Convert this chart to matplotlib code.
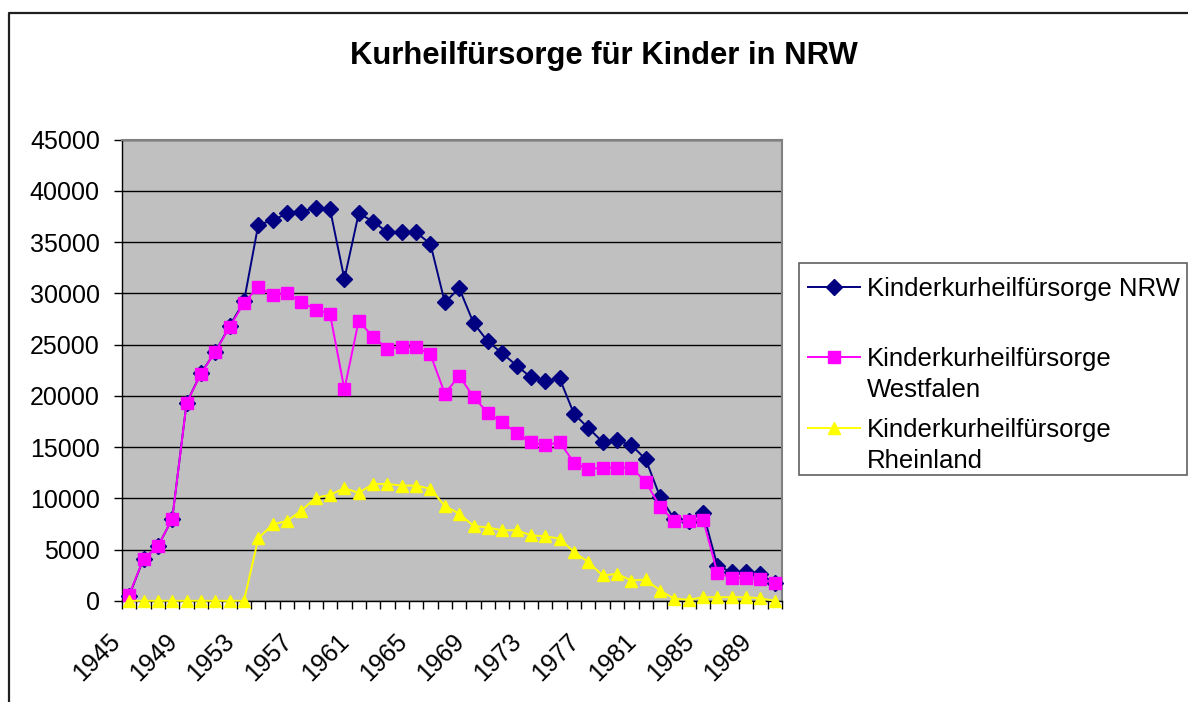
import matplotlib.pyplot as plt
from matplotlib.lines import Line2D
from matplotlib.patches import Rectangle
from matplotlib.transforms import ScaledTranslation

plt.rcParams['font.family'] = ['Liberation Sans', 'DejaVu Sans']

years = list(range(1945, 1991))

nrw = [500, 4100, 5300, 8000, 19300, 22200, 24300, 26800, 29200,
       36700, 37100, 37800, 37950, 38350, 38200, 31400, 37800, 37000,
       35950, 35950, 35950, 34800, 29100, 30500, 27100, 25300, 24150,
       22950, 21800, 21450, 21700, 18250, 16850, 15500, 15650, 15200,
       13800, 10150, 7950, 7800, 8600, 3400, 2800, 2850, 2600, 1700]

westfalen = [600, 4100, 5300, 8000, 19270, 22150, 24280, 26710, 29040,
             30660, 29790, 30010, 29140, 28400, 27970, 20630, 27330, 25710,
             24610, 24740, 24740, 24030, 20200, 21950, 19890, 18320, 17410,
             16360, 15480, 15160, 15480, 13490, 12830, 12990, 12990, 12990,
             11620, 9170, 7770, 7770, 7920, 2700, 2240, 2240, 2080, 1750]

rheinland = [0, 0, 0, 0, 0, 0, 0, 0, 0,
             6100, 7450, 7780, 8800, 10050, 10340, 10980, 10530, 11400,
             11400, 11240, 11240, 10920, 9250, 8500, 7300, 7150, 6880,
             6880, 6390, 6290, 6070, 4760, 3780, 2470, 2630, 1980,
             2080, 1000, 200, 100, 350, 350, 350, 350, 250, 0]

labels = ["Kinderkurheilfürsorge NRW",
          "Kinderkurheilfürsorge\nWestfalen",
          "Kinderkurheilfürsorge\nRheinland"]
series = [nrw, westfalen, rheinland]
colors = ["#000080", "#FF00FF", "#FFFF00"]
markers = ["D", "s", "^"]
msizes = [8.5, 8, 9]

W, H = 1188, 702
fig = plt.figure(figsize=(W / 100, H / 100), dpi=100)

def fx(px):
    return px / W

def fy(py):
    return 1 - py / H

# outer chart border (only top and left are visible)
fig.add_artist(Line2D([fx(9), fx(9), fx(1200)], [fy(720), fy(13), fy(13)],
                      color="#202020", lw=1.6, transform=fig.transFigure))

ax = fig.add_axes([fx(122), fy(600.8), fx(782) - fx(122), fy(139.5) - fy(600.8)])
ax.set_facecolor("#C0C0C0")

x = list(range(len(years)))
for vals, c, m, ms in zip(series, colors, markers, msizes):
    ax.plot(x, vals, color=c, lw=1.4, marker=m, markersize=ms,
            markeredgecolor=c, zorder=3, clip_on=False)

ax.set_xlim(-0.5, len(years) - 0.5)
ax.set_ylim(0, 45000)
ax.set_yticks(range(0, 45001, 5000))
ax.yaxis.grid(True, color="black", lw=1)
ax.set_axisbelow(True)
ax.tick_params(axis="y", length=6, width=1, pad=10, labelsize=18, direction="out")

ax.set_xticks(x[::4])
ax.set_xticklabels([str(y) for y in years[::4]], rotation=45, ha="right",
                   va="center", rotation_mode="anchor", fontsize=18)
ax.set_xticks([i - 0.5 for i in range(len(years) + 1)], minor=True)
ax.tick_params(axis="x", which="major", length=0, pad=18)
ax.tick_params(axis="x", which="minor", length=6, width=1, direction="out")
shift = ScaledTranslation(-0.13, -0.12, fig.dpi_scale_trans)
for lbl in ax.get_xticklabels():
    lbl.set_transform(lbl.get_transform() + shift)

for side in ["top", "right"]:
    ax.spines[side].set_color("#808080")
    ax.spines[side].set_linewidth(1.5)
for side in ["left", "bottom"]:
    ax.spines[side].set_color("black")
    ax.spines[side].set_linewidth(1)

fig.text(fx(604), fy(56), "Kurheilfürsorge für Kinder in NRW", ha="center",
         va="center", fontsize=22.3, fontweight="bold")

# legend drawn by hand to match the spreadsheet layout
fig.add_artist(Rectangle((fx(799), fy(475)), fx(1187) - fx(799), fy(263) - fy(475),
                         transform=fig.transFigure, facecolor="white",
                         edgecolor="#606060", lw=1.2))
rows = [287, 357, 428]
for lab, c, m, ms, yy in zip(labels, colors, markers, msizes, rows):
    fig.add_artist(Line2D([fx(808), fx(860)], [fy(yy), fy(yy)], color=c, lw=1.4,
                          transform=fig.transFigure))
    fig.add_artist(Line2D([fx(834)], [fy(yy)], color=c, marker=m, markersize=ms,
                          markeredgecolor=c, transform=fig.transFigure))
    fig.text(fx(867), fy(yy - 10), lab, ha="left", va="top", fontsize=18.5,
             linespacing=1.36)

fig.savefig("out.png", dpi=100)
